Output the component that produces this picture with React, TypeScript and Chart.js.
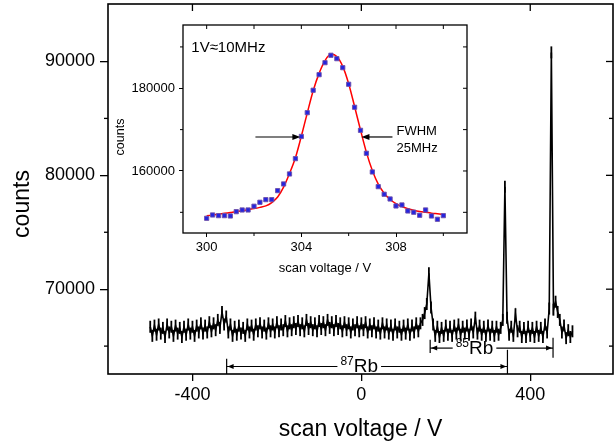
import React, { useEffect, useRef } from 'react';
import { Chart, registerables } from 'chart.js';

Chart.register(...registerables);

const FONT = '"Liberation Sans", Arial, sans-serif';

// ---------- main scan (scan voltage from -500 V in 5 V steps) ----------
const scanStart = -500;
const scanStep = 5;
const scanCounts = [
  66700, 65900, 66800, 66000, 66900, 66100, 66600, 65800, 66900, 66200,
  66700, 65900, 66800, 66100, 66600, 65800, 66700, 66000, 66900, 66100,
  66700, 65900, 66800, 66200, 67000, 66100, 66800, 66200, 67100, 66300,
  67000, 66400, 67300, 66600,
  68000, 66900, 67600, 66200, 66900, 65900, 66700, 66000, 66800, 66100,
  66600, 65900, 66900, 66200, 66800, 66000, 66900, 66300, 67000, 66200,
  66800, 66100, 67000, 66300, 66900, 66200, 67100, 66300, 66900, 66400,
  67200, 66300, 67000, 66400, 67100, 66500, 67200, 66400, 67000, 66300,
  67300, 66500, 67100, 66400, 67000, 66300, 67200, 66500, 67100, 66400,
  67300, 66600, 67100, 66400, 67200, 66500, 67000, 66300, 67100, 66400,
  67000, 66200, 66900, 66400, 67100, 66300, 67000, 66400, 67100, 66200,
  66900, 66300, 67000, 66200, 66800, 66100, 67000, 66200, 66900, 66100,
  66800, 66000, 66900, 66200, 66700, 66000, 66800, 66100, 66900, 66000,
  66800, 66200, 67000, 66300, 67000, 67300, 67900, 68700, 71400, 68400,
  66900, 65900, 66700, 65800, 66600, 65900, 66800, 66000, 66700, 65900,
  66800, 66100, 66900, 66000, 66700, 66100, 66800, 66000, 66900, 66200,
  67500, 66100, 66800, 66000, 66700, 65900, 66800, 66000, 66700, 65900,
  66700, 66000, 66600, 67300, 79000, 67500, 66000, 66700, 65900, 67800,
  66300, 66700, 65800, 66600, 65800, 66700, 65900, 66600, 65800, 66700,
  65900, 66600, 65800, 66900, 66200, 68300, 90800, 68200, 68900, 68000,
  67300, 66200, 66800, 65700, 66400, 65800, 66300,
];
const mainXTicks = [-400, 0, 400];
const mainYTicks = [70000, 80000, 90000];
const mainYMinorTicks = [65000, 75000, 85000];

// hyperfine separations marked below the trace (scan voltage / counts level)
const rb87Span = [-319, 346];
const rb87Level = 63210;
const rb87LabelAt = -5;
const rb87VerticalTops = [63886, 64675];
const rb85Span = [163, 454];
const rb85Level = 64825;
const rb85LabelAt = 268;
const rb85VerticalRanges = [[65550, 64386], [65728, 63974]];

// ---------- inset: zoom on one line ----------
const insetVoltage = [
  300, 300.25, 300.5, 300.75, 301, 301.25, 301.5, 301.75, 302, 302.25,
  302.5, 302.75, 303, 303.25, 303.5, 303.75, 304, 304.25, 304.5, 304.75,
  305, 305.25, 305.5, 305.75, 306, 306.25, 306.5, 306.75, 307, 307.25,
  307.5, 307.75, 308, 308.25, 308.5, 308.75, 309, 309.25, 309.5, 309.75, 310,
];
const insetCounts = [
  148560, 149360, 149200, 149200, 149120, 150160, 150570, 150570, 151470, 152430,
  153070, 153070, 155240, 156860, 159280, 162980, 168350, 174100, 179520, 183290,
  186190, 187980, 187160, 184980, 180970, 175410, 169830, 164280, 159760, 156210,
  154370, 153230, 151540, 151780, 150330, 150020, 149290, 150570, 149120, 148320, 149200,
];
const fitCounts = [
  149150, 149350, 149550, 149750, 149950, 150150, 150400, 150650, 150900, 151200,
  151550, 152350, 153700, 156100, 159400, 163200, 168400, 174000, 179400, 183600,
  186700, 188200, 187700, 185300, 181100, 175600, 169900, 164500, 160100, 156800,
  154600, 153100, 152100, 151400, 150900, 150500, 150200, 150000, 149800, 149650, 149500,
];
const insetXTicks = [300, 304, 308];
const insetXMinorTicks = [302, 306, 310];
const insetYTicks = [160000, 180000];
const insetYMinorTicks = [150000, 170000, 190000];
const fwhmLevel = 168220;
const fwhmLeftArrow = [302.06, 303.96];
const fwhmRightArrow = [307.85, 306.54];
const fwhmTextAt = [308.02, 169550, 165440];
const calibTextAt = [299.35, 189740];

function line(ctx: CanvasRenderingContext2D, x1: number, y1: number, x2: number, y2: number) {
  ctx.beginPath();
  ctx.moveTo(x1, y1);
  ctx.lineTo(x2, y2);
  ctx.stroke();
}

function head(ctx: CanvasRenderingContext2D, x: number, y: number, dir: number, len: number, hw: number) {
  ctx.beginPath();
  ctx.moveTo(x, y);
  ctx.lineTo(x - dir * len, y - hw);
  ctx.lineTo(x - dir * len, y + hw);
  ctx.closePath();
  ctx.fill();
}

function isotopeLabel(ctx: CanvasRenderingContext2D, mass: string, cx: number, lineY: number) {
  ctx.textAlign = 'left';
  ctx.textBaseline = 'alphabetic';
  ctx.font = `12px ${FONT}`;
  const w1 = ctx.measureText(mass).width;
  ctx.font = `19px ${FONT}`;
  const w2 = ctx.measureText('Rb').width;
  const left = cx - (w1 + w2) / 2;
  const base = lineY + 6;
  ctx.font = `12px ${FONT}`;
  ctx.fillText(mass, left, base - 7);
  ctx.font = `19px ${FONT}`;
  ctx.fillText('Rb', left + w1, base);
  return [left - 3, left + w1 + w2 + 3];
}

function noPad(s: any) {
  s.paddingTop = 0;
  s.paddingBottom = 0;
  s.paddingLeft = 0;
  s.paddingRight = 0;
}

const mainDecor = {
  id: 'mainDecor',
  afterDraw(chart: any) {
    const { ctx, chartArea: a } = chart;
    const x = chart.scales.x;
    const y = chart.scales.y;
    ctx.save();
    ctx.strokeStyle = '#000';
    ctx.fillStyle = '#000';
    ctx.lineWidth = 1.6;
    ctx.strokeRect(a.left, a.top, a.right - a.left, a.bottom - a.top);
    ctx.lineWidth = 1.3;
    mainXTicks.forEach((v) => {
      const px = x.getPixelForValue(v);
      line(ctx, px, a.top, px, a.top + 7);
    });
    mainYTicks.forEach((v) => {
      const py = y.getPixelForValue(v);
      line(ctx, a.right - 7, py, a.right, py);
    });
    mainYMinorTicks.forEach((v) => {
      const py = y.getPixelForValue(v);
      line(ctx, a.left - 4, py, a.left, py);
      line(ctx, a.right - 4, py, a.right, py);
    });
    // y title
    ctx.save();
    ctx.translate(23, 204);
    ctx.rotate(-Math.PI / 2);
    ctx.font = `23px ${FONT}`;
    ctx.textAlign = 'center';
    ctx.textBaseline = 'middle';
    ctx.fillText('counts', 0, 0);
    ctx.restore();

    // 87Rb bracket
    ctx.lineWidth = 1.2;
    const l87 = x.getPixelForValue(rb87Span[0]);
    const r87 = x.getPixelForValue(rb87Span[1]);
    const y87 = y.getPixelForValue(rb87Level);
    line(ctx, l87, y.getPixelForValue(rb87VerticalTops[0]), l87, a.bottom);
    line(ctx, r87, y.getPixelForValue(rb87VerticalTops[1]), r87, a.bottom);
    const [g1, g2] = isotopeLabel(ctx, '87', x.getPixelForValue(rb87LabelAt), y87);
    line(ctx, l87, y87, g1, y87);
    line(ctx, g2, y87, r87, y87);
    head(ctx, l87 + 1, y87, -1, 6, 2.5);
    head(ctx, r87 - 1, y87, 1, 6, 2.5);

    // 85Rb bracket
    const l85 = x.getPixelForValue(rb85Span[0]);
    const r85 = x.getPixelForValue(rb85Span[1]);
    const y85 = y.getPixelForValue(rb85Level);
    line(ctx, l85, y.getPixelForValue(rb85VerticalRanges[0][0]), l85, y.getPixelForValue(rb85VerticalRanges[0][1]));
    line(ctx, r85, y.getPixelForValue(rb85VerticalRanges[1][0]), r85, y.getPixelForValue(rb85VerticalRanges[1][1]));
    const [h1, h2] = isotopeLabel(ctx, '85', x.getPixelForValue(rb85LabelAt), y85);
    line(ctx, l85, y85, h1, y85);
    line(ctx, h2, y85, r85, y85);
    head(ctx, l85 + 1, y85, -1, 6, 2.5);
    head(ctx, r85 - 1, y85, 1, 6, 2.5);
    ctx.restore();
  },
};

const insetDecor = {
  id: 'insetDecor',
  afterDraw(chart: any) {
    const { ctx, chartArea: a } = chart;
    const x = chart.scales.x;
    const y = chart.scales.y;
    ctx.save();
    ctx.strokeStyle = '#000';
    ctx.fillStyle = '#000';
    ctx.lineWidth = 1.3;
    ctx.strokeRect(a.left, a.top, a.right - a.left, a.bottom - a.top);
    ctx.lineWidth = 1;
    [...insetXTicks, ...insetXMinorTicks].forEach((v) => {
      const px = x.getPixelForValue(v);
      line(ctx, px, a.top, px, a.top + 4);
    });
    insetXMinorTicks.forEach((v) => {
      const px = x.getPixelForValue(v);
      line(ctx, px, a.bottom, px, a.bottom + 3);
    });
    [...insetYTicks, ...insetYMinorTicks].forEach((v) => {
      const py = y.getPixelForValue(v);
      line(ctx, a.right - 4, py, a.right, py);
    });
    insetYMinorTicks.forEach((v) => {
      const py = y.getPixelForValue(v);
      line(ctx, a.left - 3, py, a.left, py);
    });
    // y title
    ctx.save();
    ctx.translate(11, 117);
    ctx.rotate(-Math.PI / 2);
    ctx.font = `12.5px ${FONT}`;
    ctx.textAlign = 'center';
    ctx.textBaseline = 'middle';
    ctx.fillText('counts', 0, 0);
    ctx.restore();

    ctx.font = `15px ${FONT}`;
    ctx.textAlign = 'left';
    ctx.textBaseline = 'middle';
    ctx.fillText('1V\u224810MHz', x.getPixelForValue(calibTextAt[0]), y.getPixelForValue(calibTextAt[1]));
    ctx.font = `13px ${FONT}`;
    ctx.fillText('FWHM', x.getPixelForValue(fwhmTextAt[0]), y.getPixelForValue(fwhmTextAt[1]));
    ctx.fillText('25MHz', x.getPixelForValue(fwhmTextAt[0]), y.getPixelForValue(fwhmTextAt[2]));

    const fy = y.getPixelForValue(fwhmLevel);
    ctx.lineWidth = 1.2;
    const la = x.getPixelForValue(fwhmLeftArrow[0]);
    const lb = x.getPixelForValue(fwhmLeftArrow[1]);
    line(ctx, la, fy, lb - 5, fy);
    head(ctx, lb, fy, 1, 8, 3);
    const ra = x.getPixelForValue(fwhmRightArrow[0]);
    const rb = x.getPixelForValue(fwhmRightArrow[1]);
    line(ctx, ra, fy, rb + 5, fy);
    head(ctx, rb, fy, -1, 8, 3);
    ctx.restore();
  },
};

export default function App() {
  const mainRef = useRef<HTMLCanvasElement>(null);
  const insetRef = useRef<HTMLCanvasElement>(null);

  useEffect(() => {
    Chart.defaults.font.family = FONT;
    Chart.defaults.color = '#000';
    const mainData = scanCounts.map((c, i) => ({ x: scanStart + i * scanStep, y: c }));
    const main = new Chart(mainRef.current as HTMLCanvasElement, {
      type: 'line',
      data: {
        datasets: [
          {
            data: mainData,
            borderColor: '#000',
            borderWidth: 1.6,
            pointStyle: 'line',
            pointRotation: 90,
            pointRadius: 6,
            pointBorderWidth: 1.8,
            pointBorderColor: '#000',
            tension: 0,
          },
        ],
      },
      options: {
        animation: false,
        responsive: false,
        devicePixelRatio: 1,
        layout: { autoPadding: false, padding: { left: 0, right: 2, top: 4, bottom: 0 } },
        plugins: { legend: { display: false }, tooltip: { enabled: false } },
        scales: {
          x: {
            type: 'linear',
            min: -600,
            max: 596,
            afterBuildTicks: (s: any) => {
              s.ticks = mainXTicks.map((v) => ({ value: v }));
            },
            afterFit: (s: any) => {
              s.height = 69;
              noPad(s);
            },
            ticks: { font: { size: 18 }, color: '#000', padding: 3, maxRotation: 0, autoSkip: false, callback: (v: any) => String(v) },
            grid: { drawOnChartArea: false, drawTicks: true, tickLength: 7, color: '#000', lineWidth: 1.3 },
            border: { display: false },
            title: { display: true, text: 'scan voltage / V', font: { size: 23 }, color: '#000', padding: { top: 0, bottom: 0 } },
          },
          y: {
            type: 'linear',
            min: 62550,
            max: 95050,
            afterBuildTicks: (s: any) => {
              s.ticks = mainYTicks.map((v) => ({ value: v }));
            },
            afterFit: (s: any) => {
              s.width = 108;
              noPad(s);
            },
            ticks: { font: { size: 18 }, color: '#000', padding: 5, callback: (v: any) => String(v) },
            grid: { drawOnChartArea: false, drawTicks: true, tickLength: 8, color: '#000', lineWidth: 1.3 },
            border: { display: false },
          },
        },
      },
      plugins: [mainDecor],
    });

    const insetPoints = insetVoltage.map((v, i) => ({ x: v, y: insetCounts[i] }));
    const fitPoints = insetVoltage.map((v, i) => ({ x: v, y: fitCounts[i] }));
    const inset = new Chart(insetRef.current as HTMLCanvasElement, {
      type: 'line',
      data: {
        datasets: [
          {
            data: insetPoints,
            showLine: false,
            pointStyle: 'rect',
            pointRadius: 3,
            pointBackgroundColor: '#2424e0',
            pointBorderColor: 'rgba(110,80,170,0.9)',
            pointBorderWidth: 1,
            order: 0,
          },
          {
            data: fitPoints,
            borderColor: '#ff0000',
            borderWidth: 1.5,
            pointRadius: 0,
            cubicInterpolationMode: 'monotone',
            order: 1,
          },
        ],
      },
      options: {
        animation: false,
        responsive: false,
        devicePixelRatio: 1,
        layout: { autoPadding: false, padding: { left: 0, right: 13, top: 5, bottom: 0 } },
        plugins: { legend: { display: false }, tooltip: { enabled: false } },
        scales: {
          x: {
            type: 'linear',
            min: 299,
            max: 311,
            afterBuildTicks: (s: any) => {
              s.ticks = insetXTicks.map((v) => ({ value: v }));
            },
            afterFit: (s: any) => {
              s.height = 52;
              noPad(s);
            },
            ticks: { font: { size: 13 }, color: '#000', padding: 3, maxRotation: 0, autoSkip: false, callback: (v: any) => String(v) },
            grid: { drawOnChartArea: false, drawTicks: true, tickLength: 4, color: '#000', lineWidth: 1 },
            border: { display: false },
            title: { display: true, text: 'scan voltage / V', font: { size: 13 }, color: '#000', padding: { top: 0, bottom: 9 } },
          },
          y: {
            type: 'linear',
            min: 145000,
            max: 195300,
            afterBuildTicks: (s: any) => {
              s.ticks = insetYTicks.map((v) => ({ value: v }));
            },
            afterFit: (s: any) => {
              s.width = 73;
              noPad(s);
            },
            ticks: { font: { size: 13 }, color: '#000', padding: 4, callback: (v: any) => String(v) },
            grid: { drawOnChartArea: false, drawTicks: true, tickLength: 4, color: '#000', lineWidth: 1 },
            border: { display: false },
          },
        },
      },
      plugins: [insetDecor],
    });

    return () => {
      main.destroy();
      inset.destroy();
    };
  }, []);

  return (
    <div style={{ position: 'absolute', left: 0, top: 0, width: 615, height: 443, background: '#fff' }}>
      <canvas ref={mainRef} width={615} height={443} style={{ position: 'absolute', left: 0, top: 0, width: 615, height: 443 }} />
      <canvas ref={insetRef} width={370} height={265} style={{ position: 'absolute', left: 110, top: 20, width: 370, height: 265 }} />
    </div>
  );
}
